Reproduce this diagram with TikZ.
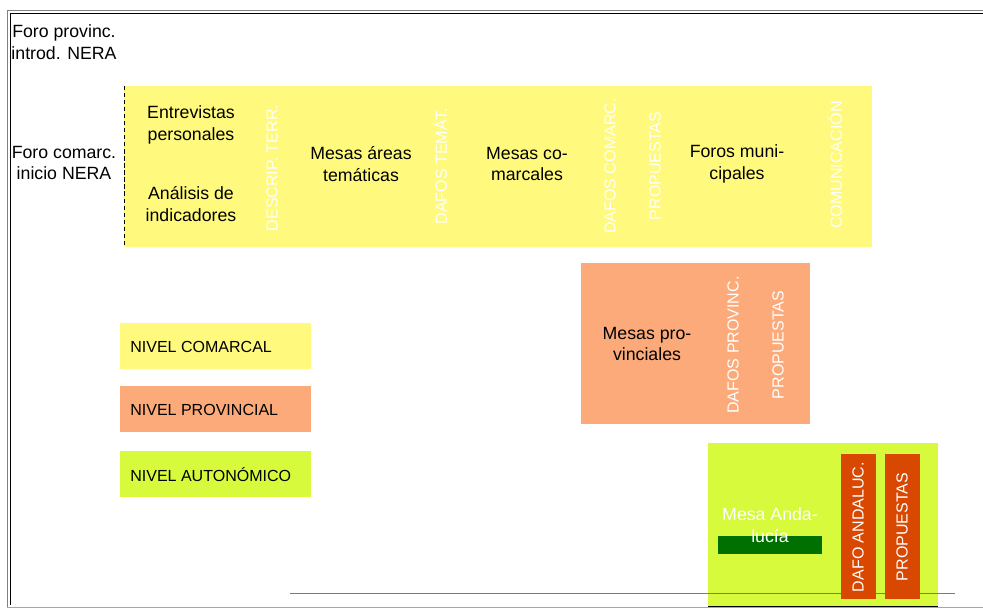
\documentclass[tikz,border=0pt]{standalone}
\usepackage{fontspec}
\setmainfont{Liberation Sans}
\definecolor{comarcal}{RGB}{255,250,125}
\definecolor{provincial}{RGB}{252,170,122}
\definecolor{autonomico}{RGB}{216,250,60}
\definecolor{dafo}{RGB}{216,72,0}
\definecolor{mesa}{RGB}{0,112,0}
\definecolor{raya}{RGB}{200,90,90}

\tikzset{
  txt/.style={align=center, inner sep=0pt, font=\fontsize{12.6}{15.6}\selectfont},
  vert/.style={rotate=90, inner sep=0pt, text=white, font=\fontsize{11.4}{12}\selectfont},
  level/.style={anchor=west, inner sep=0pt, font=\fontsize{11.4}{13}\selectfont}
}

\begin{document}
\begin{tikzpicture}[x=0.025cm,y=-0.025cm]
\useasboundingbox (0,0) rectangle (983,608);
% frame
\draw[gray] (7,607) -- (7,10) -- (983,10);
\draw[black] (10.5,605) -- (10.5,13) -- (983,13);
\draw[gray!70] (7,607) -- (983,607);
% nivel comarcal
\fill[comarcal] (124,86) rectangle (872,247);
\draw[densely dashed, very thin] (124,86) -- (124,247);
\node[txt] (fprov) at (64,42) {Foro provinc.\\introd. NERA};
\node[txt] (fcom) at (64,163) {Foro comarc.\\inicio NERA};
\node[txt] (entrev) at (191,125) {Entrevistas\\personales};
\node[txt] (analis) at (191,204) {Análisis de\\indicadores};
\node[vert] (descrip) at (272,168) {DESCRIP. TERR.};
\node[txt] (mareas) at (361,164) {Mesas áreas\\temáticas};
\node[vert] (dtemat) at (440,166) {DAFOS TEMÁT.};
\node[txt] (mcomar) at (527,164) {Mesas co-\\marcales};
\node[vert] (dcomar) at (610,166) {DAFOS COMARC.};
\node[vert] (pcomar) at (655,166) {PROPUESTAS};
\node[txt] (foros) at (737,164) {Foros muni-\\cipales};
\node[vert] (comun) at (835,165) {COMUNICACIÓN};
% nivel provincial
\fill[provincial] (581,263) rectangle (810,424);
\node[txt] (mprov) at (647,344) {Mesas pro-\\vinciales};
\node[vert] (dprov) at (733,345) {DAFOS PROVINC.};
\node[vert] (pprov) at (778,345) {PROPUESTAS};
% leyenda
\fill[comarcal] (120,323) rectangle (311,369);
\fill[provincial] (120,386) rectangle (311,432);
\fill[autonomico] (120,451) rectangle (311,497);
\node[level] (lcom) at (130,347) {NIVEL COMARCAL};
\node[level] (lprov) at (130,410) {NIVEL PROVINCIAL};
\node[level] (laut) at (130,475) {NIVEL AUTONÓMICO};
% nivel autonomico
\fill[autonomico] (708,443) rectangle (938,606);
\draw (708,606) -- (938,606);
\fill[mesa] (718,536) rectangle (822,554);
\node[txt, text=white] (mand) at (770,525) {Mesa Anda-\\lucía};
\draw[raya] (290,593) -- (955,593);
\fill[dafo] (841,454) rectangle (876,599);
\fill[dafo] (885,454) rectangle (920,599);
\node[vert] (dand) at (858,527) {DAFO ANDALUC.};
\node[vert] (pand) at (902,527) {PROPUESTAS};
\end{tikzpicture}
\end{document}
